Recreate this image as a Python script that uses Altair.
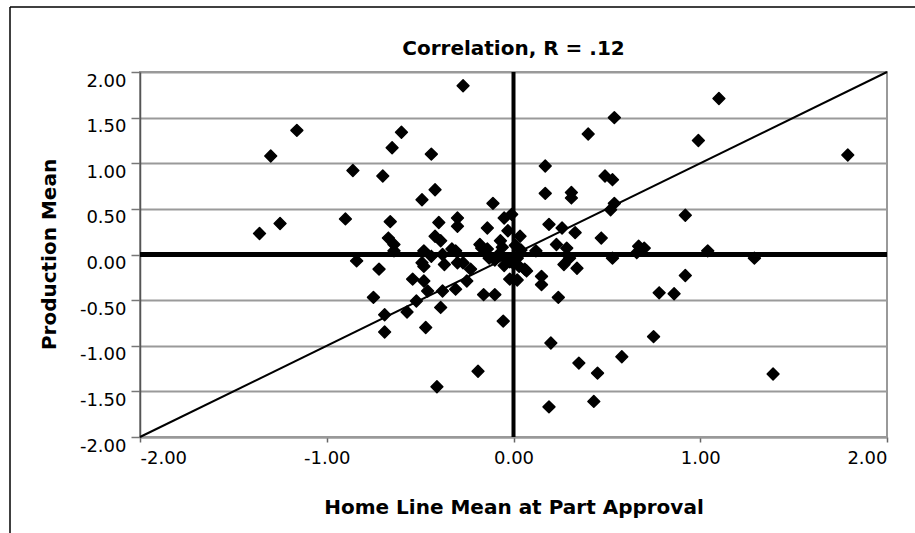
import altair as alt
import pandas as pd

# Home line mean (x) and production mean (y) for each part
home_line = [-0.27, 1.10, 0.54, -1.16, -0.60, 0.40, 0.99, -1.30, -0.65, -0.44,
             1.79, -0.86, -0.70, 0.17, 0.49, 0.53, 0.17, 0.31, 0.31, -0.49,
             -0.42, -0.11, 0.54, 0.52, 0.92, -0.90, -1.25, -1.36, -0.66, -0.67,
             -0.64, -0.40, -0.30, -0.30, -0.14, -0.05, -0.01, -0.03, 0.19, 0.26,
             0.33, 0.47, 0.035, 0.23, 0.285, 0.30, 0.27, 0.34, 0.53, 0.67,
             0.70, 1.04, 1.29, 0.12, 0.92, 0.78, 0.86, 0.75, 0.58, 0.35,
             0.45, 0.43, 0.19, 0.20, 1.39, 0.24, 0.15, 0.15, 0.07, 0.02,
             -0.055, -0.19, -0.41, -0.84, -0.72, -0.75, -0.69, -0.69, -0.57, -0.52,
             -0.47, -0.39, -0.54, -0.48, -0.46, -0.38, -0.31, -0.25, -0.23, -0.16,
             -0.10, -0.02, -0.48, -0.49, -0.48, -0.39, -0.42, -0.38, -0.37, -0.31,
             -0.30, -0.33, -0.27, -0.17, -0.13, -0.18, -0.14, -0.07, -0.08, -0.64,
             -0.44, -0.04, -0.02, 0.00, 0.02, 0.04, -0.05, 0.03, -0.10, 0.06,
             -0.06, 0.01, 0.66]
production = [1.85, 1.71, 1.50, 1.36, 1.34, 1.32, 1.25, 1.08, 1.17, 1.10,
              1.09, 0.92, 0.86, 0.97, 0.86, 0.82, 0.67, 0.68, 0.62, 0.60,
              0.71, 0.56, 0.56, 0.49, 0.43, 0.39, 0.34, 0.23, 0.36, 0.18,
              0.11, 0.35, 0.40, 0.31, 0.29, 0.40, 0.44, 0.26, 0.33, 0.29,
              0.24, 0.18, 0.20, 0.11, 0.07, -0.04, -0.11, -0.15, -0.04, 0.09,
              0.07, 0.04, -0.04, 0.04, -0.23, -0.42, -0.43, -0.90, -1.12, -1.19,
              -1.30, -1.61, -1.67, -0.97, -1.31, -0.47, -0.24, -0.33, -0.18, -0.28,
              -0.73, -1.28, -1.45, -0.07, -0.16, -0.47, -0.66, -0.85, -0.63, -0.51,
              -0.80, -0.58, -0.27, -0.29, -0.40, -0.40, -0.38, -0.29, -0.16, -0.44,
              -0.44, -0.27, 0.04, -0.09, -0.13, 0.15, 0.20, 0.00, -0.11, 0.04,
              -0.09, 0.06, -0.09, 0.07, -0.04, 0.11, 0.06, 0.15, 0.00, 0.04,
              -0.02, -0.05, -0.08, -0.10, -0.04, 0.05, -0.12, -0.13, -0.06, -0.16,
              0.08, 0.10, 0.02]

x_ticks = [-2.0, -1.0, 0.0, 1.0, 2.0]
y_ticks = [-2.0, -1.5, -1.0, -0.5, 0.0, 0.5, 1.0, 1.5, 2.0]
diag_x = [-2.0, 2.0]
diag_y = [-2.0, 2.0]
zero_ref = [0.0]
chart_title = ["Correlation, R = .12"]

pts = pd.DataFrame({"x": home_line, "y": production})
diag = pd.DataFrame({"x": diag_x, "y": diag_y})
zero_h = pd.DataFrame({"y": zero_ref})
zero_v = pd.DataFrame({"x": zero_ref})
one_row = pd.DataFrame({"k": [0]})
title_df = pd.DataFrame({"t": chart_title})

label_expr = "(datum.value < 0 ? '-' : '') + format(abs(datum.value), '.2f')"
FONT = "DejaVu Sans"

xscale = alt.Scale(domain=[-2, 2], nice=False, zero=False)
yscale = alt.Scale(domain=[-2, 2], nice=False, zero=False)

x_axis = alt.Axis(
    values=x_ticks, labelExpr=label_expr, grid=False,
    title="Home Line Mean at Part Approval",
    tickSize=5, tickColor="#666", tickWidth=1.5,
    domainColor="#999", domainWidth=2,
    labelFont=FONT, labelFontSize=18, labelPadding=7, labelColor="black",
    titleFont=FONT, titleFontSize=20, titleFontWeight="bold", titleColor="black",
    titleBaseline="alphabetic", titleY=76,
)
y_axis = alt.Axis(
    values=y_ticks, labelExpr=label_expr, grid=True,
    gridColor="#9a9a9a", gridWidth=2,
    title="Production Mean",
    tickSize=9, tickColor="#777", tickWidth=1.5,
    domainColor="#555", domainWidth=1.5,
    labelFont=FONT, labelFontSize=18, labelPadding=5, labelOffset=9, labelColor="black",
    titleFont=FONT, titleFontSize=20, titleFontWeight="bold", titleColor="black",
    titleBaseline="alphabetic", titleAngle=270, titleAlign="center",
    titleX=-85, titleY=182,
)

X = alt.X("x:Q", scale=xscale, axis=x_axis)
Y = alt.Y("y:Q", scale=yscale, axis=y_axis)

diag_layer = alt.Chart(diag).mark_line(color="black", strokeWidth=2).encode(x=X, y=Y)
h_layer = alt.Chart(zero_h).mark_rule(color="black", strokeWidth=5).encode(y=Y)
v_layer = alt.Chart(zero_v).mark_rule(color="black", strokeWidth=4).encode(x=X)
points = alt.Chart(pts).mark_point(
    shape="diamond", filled=True, fill="black", stroke="black",
    strokeWidth=1.5, strokeJoin="round", size=140, opacity=1,
).encode(x=X, y=Y)

title_layer = alt.Chart(title_df).mark_text(
    font=FONT, fontSize=20, fontWeight="bold", color="black",
    align="center", baseline="alphabetic",
).encode(x=alt.value(373.5), y=alt.value(-17), text="t:N")

frame_top = alt.Chart(one_row).mark_rule(color="black", strokeWidth=1.5).encode(
    x=alt.value(-130), x2=alt.value(775), y=alt.value(-65))
frame_left = alt.Chart(one_row).mark_rule(color="black", strokeWidth=1.5).encode(
    x=alt.value(-130), y=alt.value(-65), y2=alt.value(461))

chart = alt.layer(diag_layer, h_layer, v_layer, points, title_layer,
                  frame_top, frame_left).properties(
    width=747, height=365,
    padding={"left": 140, "top": 72, "right": 28, "bottom": 96},
    autosize=alt.AutoSizeParams(type="none"),
    background="white",
).configure_view(stroke="#999", strokeWidth=2)

chart.save("out.html", embed_options={"renderer": "svg", "actions": False})
